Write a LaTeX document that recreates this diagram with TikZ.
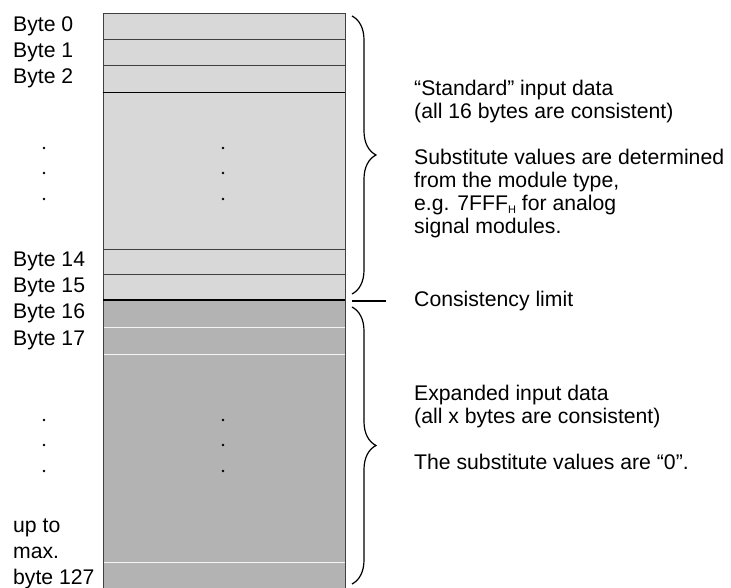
\documentclass[tikz,border=0pt]{standalone}
\usepackage{fontspec}
\setmainfont{Liberation Sans}
\usetikzlibrary{positioning, decorations.pathreplacing}
\definecolor{stdgray}{HTML}{D8D8D8}
\definecolor{expgray}{HTML}{B3B3B3}
\definecolor{framegray}{HTML}{404040}
\tikzstyle{bytecell} = [rectangle, 
minimum width=242pt, 
inner sep=0pt, outer sep=0pt]
\tikzstyle{brace} = [decorate, decoration={brace, amplitude=24pt}, line width=1.2pt]

\begin{document}
\begin{tikzpicture}[
        x=1pt, y=-1pt,
        lbl/.style={font=\fontsize{21.2}{23}\selectfont, inner sep=0pt, anchor=west, align=left},
        std/.style={bytecell, fill=stdgray, draw=framegray, line width=0.9pt},
        exp/.style={bytecell, fill=expgray, draw=white!85!expgray, line width=0.9pt},
        limitline/.style={line width=2pt, black},
    ]
        \useasboundingbox (0,0) rectangle (731,588);

        % standard input data
        \node[std, minimum height=26pt, anchor=north] (b0) at (224,13) {};
        \node[std, minimum height=26pt, below=0pt of b0] (b1) {};
        \node[std, minimum height=27pt, below=0pt of b1] (b2) {};
        \node[std, minimum height=157pt, below=0pt of b2] (bmid) {};
        \node[std, minimum height=25pt, below=0pt of bmid] (b14) {};
        \node[std, minimum height=26pt, below=0pt of b14] (b15) {};
        \draw[black, line width=0.9pt] (b2.south west) -- (b2.south east);

        % expanded input data
        \node[exp, minimum height=27pt, below=0pt of b15] (b16) {};
        \node[exp, minimum height=27pt, below=0pt of b16] (b17) {};
        \node[exp, minimum height=208pt, below=0pt of b17] (bmid2) {};
        \node[exp, minimum height=26pt, below=0pt of bmid2] (bmax) {};
        \draw[framegray, line width=0.9pt] (b16.north west) -- (bmax.south west)
            (b16.north east) -- (bmax.south east);
        \draw[limitline] (b15.south west) -- (b15.south east);

        \node[lbl] (l0) at (13,0 |- b0) {Byte 0};
        \node[lbl] (l1) at (13,0 |- b1) {Byte 1};
        \node[lbl] (l2) at (13,0 |- b2) {Byte 2};
        \node[lbl] (l14) at (13,0 |- b14) {Byte 14};
        \node[lbl] (l15) at (13,0 |- b15) {Byte 15};
        \node[lbl] (l16) at (13,0 |- b16) {Byte 16};
        \node[lbl] (l17) at (13,0 |- b17) {Byte 17};
        \node[lbl, font=\fontsize{21.2}{26}\selectfont] (lmax) at (13,554) {up to\\max.\\byte 127};

        \foreach \y in {148,173,199,420,445,471} {
            \fill (44,\y) circle (1.3pt);
            \fill (223,\y) circle (1.3pt);
        }

        \draw[brace] (352,16) -- (352,294);
        \draw[brace] (352,307) -- (352,584);

        \node[lbl] (stdtxt) at (414,159) {“Standard” input data\\
            (all 16 bytes are consistent)\\[23pt]
            Substitute values are determined\\
            from the module type,\\
            e.g. 7FFF\raisebox{-3.5pt}{\fontsize{11}{11}\selectfont H} for analog\\
            signal modules.};
        \node[lbl] (limit) at (414,301) {Consistency limit};
        \draw[limitline] ([xshift=-62pt]limit.west) -- ([xshift=-28pt]limit.west);
        \node[lbl] (exptxt) at (414,427) {Expanded input data\\
            (all x bytes are consistent)\\[23pt]
            The substitute values are “0”.};
    \end{tikzpicture}
\end{document}
